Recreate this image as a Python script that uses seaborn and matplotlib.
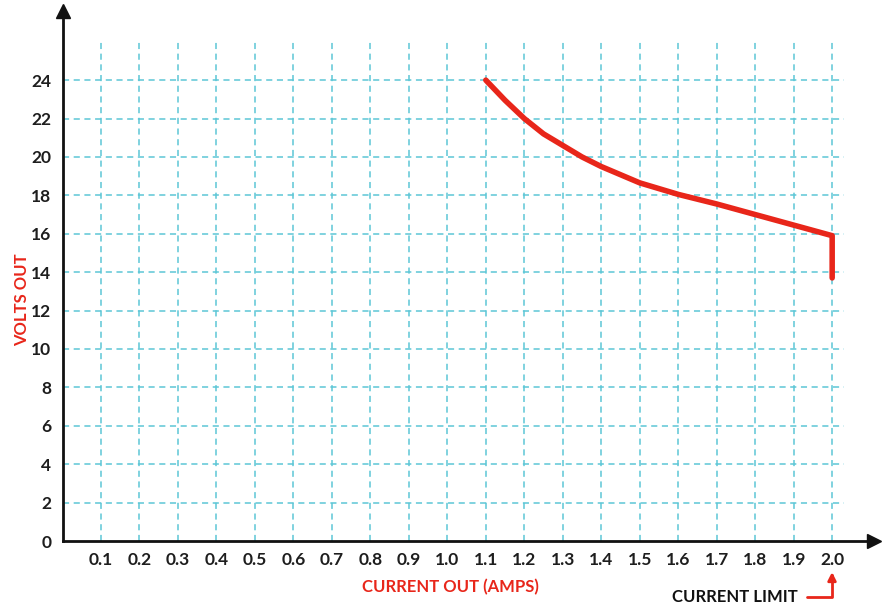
import pandas as pd
import matplotlib.pyplot as plt
import seaborn as sns

sns.set_style('white')
plt.rcParams['font.family'] = ['Lato', 'DejaVu Sans']

# current out (amps) vs volts out
current = [1.1, 1.15, 1.2, 1.25, 1.3, 1.35, 1.4, 1.5, 1.6, 1.7, 1.8, 1.9, 2.0, 2.0]
volts = [24.0, 22.95, 22.0, 21.2, 20.6, 20.0, 19.5, 18.65, 18.05, 17.55, 17.0, 16.45, 15.9, 13.7]

x_ticks = [round(0.1 * i, 1) for i in range(1, 21)]
y_ticks = list(range(0, 25, 2))

RED = '#e8261a'
GRID = '#5cc6d6'


def main():
    df = pd.DataFrame({'current': current, 'volts': volts})

    fig = plt.figure(figsize=(8.84, 6.04), dpi=100)
    ax = fig.add_axes([62.5 / 884, 63 / 604, 812 / 884, 530 / 604])

    # dashed grid (vertical lines reach 26, horizontal ones just past 2.0)
    ax.vlines(x_ticks, 0, 26, colors=GRID, linestyles=(0, (4, 3)), lw=1.1, zorder=1)
    ax.hlines(y_ticks[1:], 0, 2.03, colors=GRID, linestyles=(0, (4, 3)), lw=1.1, zorder=1)

    sns.lineplot(data=df, x='current', y='volts', sort=False, estimator=None,
                 color=RED, lw=4, ax=ax, zorder=3, solid_joinstyle='round')

    ax.set_xlim(0, 2.11)
    ax.set_ylim(0, 27.6)
    ax.set_xticks(x_ticks)
    ax.set_xticklabels([f'{v:.1f}' for v in x_ticks])
    ax.set_yticks(y_ticks)
    ax.tick_params(length=0, labelsize=12.5, labelcolor='#1e1e1e', pad=8)
    for lab in ax.get_xticklabels() + ax.get_yticklabels():
        lab.set_fontweight('bold')
    ax.set_xlabel('')
    ax.set_ylabel('')

    for s in ['top', 'right']:
        ax.spines[s].set_visible(False)
    for s in ['left', 'bottom']:
        ax.spines[s].set_linewidth(2)
        ax.spines[s].set_color('#111111')
    # arrow heads on the axes
    ax.plot(0, 1, '^', ms=10, color='#111111', transform=ax.transAxes, clip_on=False)
    ax.plot(1, 0, '>', ms=10, color='#111111', transform=ax.transAxes, clip_on=False)

    fig.text(22 / 884, 1 - 300 / 604, 'VOLTS OUT', color=RED, rotation=90,
             ha='center', va='center', fontsize=12, fontweight='bold')
    fig.text(450 / 884, 1 - 587 / 604, 'CURRENT OUT (AMPS)', color=RED,
             ha='center', va='center', fontsize=12, fontweight='bold')

    ax.annotate('CURRENT LIMIT', xy=(832, 604 - 572), xycoords='figure pixels',
                xytext=(798, 604 - 597), textcoords='figure pixels',
                ha='right', va='center', fontsize=12, fontweight='bold', color='#111111',
                arrowprops=dict(arrowstyle='-|>', color=RED, lw=2, shrinkA=4, shrinkB=0,
                                connectionstyle='angle,angleA=0,angleB=90,rad=0'))

    fig.savefig('out.png', dpi=100)


if __name__ == '__main__':
    main()
